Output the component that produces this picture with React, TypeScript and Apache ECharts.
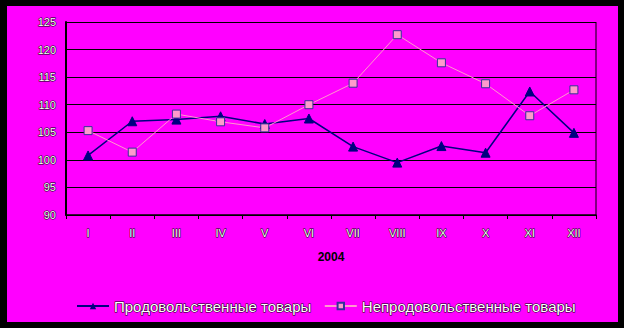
import React, { useEffect, useRef } from "react";
import * as echarts from "echarts";

const months = ["I", "II", "III", "IV", "V", "VI", "VII", "VIII", "IX", "X", "XI", "XII"];
const foodGoods = [100.8, 107.0, 107.3, 107.9, 106.5, 107.5, 102.4, 99.5, 102.5, 101.3, 112.4, 104.9];
const nonFoodGoods = [105.3, 101.4, 108.3, 106.9, 105.8, 110.0, 113.9, 122.7, 117.6, 113.8, 108.0, 112.7];
const yearLabel = "2004";
const foodName = "Продовольственные товары";
const nonFoodName = "Непродовольственные товары";

const labelStyle = {
  color: "#ffffff",
  textBorderColor: "#000000",
  textBorderWidth: 1,
  fontFamily: "Liberation Sans, Arial, sans-serif",
};

export default function App() {
  const ref = useRef<HTMLDivElement>(null);
  useEffect(() => {
    if (!ref.current) return;
    const chart = echarts.init(ref.current, null, { renderer: "svg" });
    chart.setOption({
      animation: false,
      backgroundColor: "#000000",
      graphic: [
        {
          type: "rect",
          z: -10,
          silent: true,
          shape: { x: 7, y: 6, width: 611, height: 316 },
          style: { fill: "#ff00ff" },
        },
        {
          type: "line",
          z: 5,
          silent: true,
          shape: { x1: 596, y1: 22, x2: 596, y2: 215 },
          style: { stroke: "#000000", lineWidth: 1 },
        },
      ],
      grid: { left: 66, right: 28, top: 22, bottom: 113, containLabel: false },
      xAxis: {
        type: "category",
        data: months,
        boundaryGap: true,
        name: yearLabel,
        nameLocation: "middle",
        nameGap: 36,
        nameTextStyle: {
          color: "#000000",
          fontWeight: "bold",
          fontSize: 12,
          fontFamily: "Liberation Sans, Arial, sans-serif",
        },
        axisLine: { lineStyle: { color: "#000000", width: 1.5 } },
        axisTick: { show: true, length: 4, lineStyle: { color: "#000000" } },
        axisLabel: { ...labelStyle, fontSize: 11, margin: 12 },
      },
      yAxis: {
        type: "value",
        min: 90,
        max: 125,
        interval: 5,
        axisLine: { show: true, lineStyle: { color: "#000000", width: 2 } },
        axisTick: { show: false },
        axisLabel: { ...labelStyle, fontSize: 11, margin: 10 },
        splitLine: { show: true, lineStyle: { color: "#000000", width: 1.2 } },
      },
      legend: {
        top: 293,
        left: 71,
        itemGap: 12,
        itemWidth: 32,
        itemHeight: 8,
        textStyle: {
          color: "#ffffff",
          textBorderColor: "#000000",
          textBorderWidth: 1,
          fontSize: 15,
          fontFamily: "Liberation Sans, Arial, sans-serif",
        },
        data: [{ name: foodName }, { name: nonFoodName }],
      },
      series: [
        {
          name: foodName,
          type: "line",
          data: foodGoods,
          symbol: "triangle",
          symbolSize: 9,
          lineStyle: { color: "#000080", width: 1.5 },
          itemStyle: { color: "#000080", borderColor: "#000080" },
        },
        {
          name: nonFoodName,
          type: "line",
          data: nonFoodGoods,
          symbol: "rect",
          symbolSize: 8,
          lineStyle: { color: "#ff99cc", width: 1 },
          itemStyle: { color: "#ff99cc", borderColor: "#333399", borderWidth: 1 },
        },
      ],
    });
    return () => chart.dispose();
  }, []);
  return (
    <div
      ref={ref}
      style={{ position: "fixed", left: 0, top: 0, width: 624, height: 328 }}
    />
  );
}
